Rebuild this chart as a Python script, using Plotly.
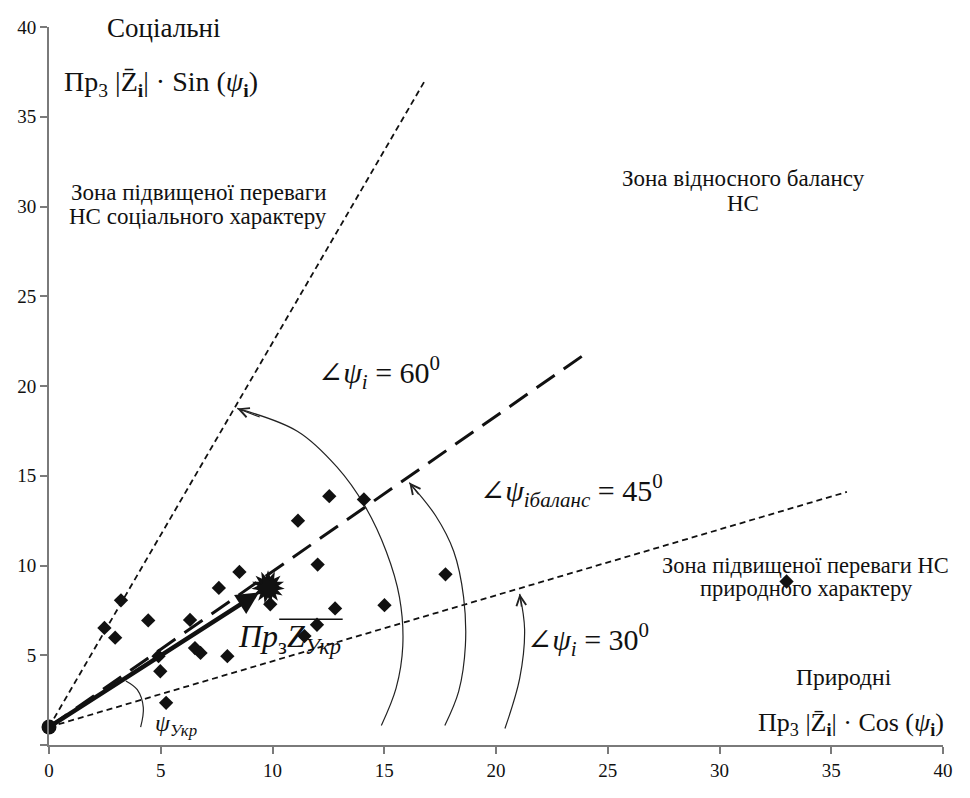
import plotly.graph_objects as go

# ---------------- data ----------------
x_ticks = [0, 5, 10, 15, 20, 25, 30, 35, 40]
x_tick_text = ["0", "5", "10", "15", "20", "25", "30", "35", "40"]
y_ticks = [0, 5, 10, 15, 20, 25, 30, 35, 40]
y_tick_text = ["", "5", "10", "15", "20", "25", "30", "35", "40"]

# regions' scatter (Пр3|Z|cos ψ, Пр3|Z|sin ψ)
pts_x = [2.48, 3.22, 2.96, 4.44, 4.9, 4.98, 5.24, 6.31, 6.53, 6.78, 7.98, 7.6, 8.52,
         9.9, 11.14, 12.02, 12.54, 14.09, 12.8, 11.99, 11.43, 15.01, 17.74, 33.0]
pts_y = [6.52, 8.06, 5.98, 6.94, 4.95, 4.11, 2.35, 6.97, 5.40, 5.13, 4.95, 8.75, 9.64,
         7.84, 12.5, 10.05, 13.86, 13.68, 7.61, 6.70, 6.07, 7.79, 9.51, 9.11]

# origin of vectors and Ukraine vector
origin = (0.0, 1.0)
ukr = (9.8, 8.8)

# zone boundary lines (end points)
line60_end = (16.86, 37.1)
line45_end = (23.94, 21.74)
line30_end = (35.7, 14.1)

# hand-drawn angle arcs (annotation geometry)
arc60_x = [14.87, 15.53, 15.83, 15.68, 15.09, 14.13, 12.88, 11.11, 8.42]
arc60_y = [1.09, 3.17, 5.53, 8.24, 10.78, 13.32, 15.49, 17.48, 18.75]
arc45_x = [17.71, 18.33, 18.63, 18.55, 18.11, 17.3, 16.12]
arc45_y = [1.09, 2.99, 5.53, 8.24, 10.78, 12.77, 14.62]
arc30_x = [20.4, 21.06, 21.28, 21.06]
arc30_y = [0.92, 3.71, 6.43, 8.42]
arcpsi_x = [3.44, 3.95, 4.22, 4.1]
arcpsi_y = [3.57, 3.08, 2.08, 0.99]

SERIF = "Liberation Serif, 'Times New Roman', 'DejaVu Serif', serif"
INK = "#111111"

fig = go.Figure()

# zone lines
fig.add_trace(go.Scatter(x=[origin[0], line60_end[0]], y=[origin[1], line60_end[1]],
                         mode="lines", line=dict(color=INK, width=1.8, dash="6px,4px"),
                         hoverinfo="skip"))
fig.add_trace(go.Scatter(x=[origin[0], line30_end[0]], y=[origin[1], line30_end[1]],
                         mode="lines", line=dict(color=INK, width=1.8, dash="6px,4px"),
                         hoverinfo="skip"))
fig.add_trace(go.Scatter(x=[origin[0], line45_end[0]], y=[origin[1], line45_end[1]],
                         mode="lines", line=dict(color=INK, width=3, dash="22px,11px"),
                         hoverinfo="skip"))

# arcs
for ax_, ay_ in [(arc60_x, arc60_y), (arc45_x, arc45_y), (arc30_x, arc30_y), (arcpsi_x, arcpsi_y)]:
    fig.add_trace(go.Scatter(x=ax_, y=ay_, mode="lines",
                             line=dict(color="#222222", width=1.2, shape="spline"),
                             hoverinfo="skip"))

# scatter points
fig.add_trace(go.Scatter(x=pts_x, y=pts_y, mode="markers",
                         marker=dict(symbol="diamond", size=11, color=INK),
                         hoverinfo="skip"))

# origin dot
fig.add_trace(go.Scatter(x=[origin[0]], y=[origin[1]], mode="markers",
                         marker=dict(symbol="circle", size=15, color=INK),
                         cliponaxis=False, hoverinfo="skip"))

# star burst at Ukraine vector tip
fig.add_trace(go.Scatter(x=[ukr[0]] * 3, y=[ukr[1]] * 3, mode="markers",
                         marker=dict(symbol="star", size=24, color=INK, angle=[0, 24, 48]),
                         hoverinfo="skip"))

annotations = []

# main vector arrow
annotations.append(dict(x=ukr[0] - 0.4, y=ukr[1] - 0.3, ax=origin[0], ay=origin[1],
                        xref="x", yref="y", axref="x", ayref="y", text="",
                        showarrow=True, arrowhead=2, arrowsize=1, arrowwidth=4.5,
                        arrowcolor=INK, standoff=0, startstandoff=0))

# arc arrowheads
for ax_, ay_ in [(arc60_x, arc60_y), (arc45_x, arc45_y), (arc30_x, arc30_y)]:
    annotations.append(dict(x=ax_[-1], y=ay_[-1], ax=ax_[-2] + (ax_[-1] - ax_[-2]) * 0.6,
                            ay=ay_[-2] + (ay_[-1] - ay_[-2]) * 0.6,
                            xref="x", yref="y", axref="x", ayref="y", text="",
                            showarrow=True, arrowhead=5, arrowsize=1.6, arrowwidth=1.2,
                            arrowcolor="#222222", standoff=0))


def txt(x, y, s, size, xanchor="center"):
    annotations.append(dict(x=x, y=y, xref="x", yref="y", text=s, showarrow=False,
                            font=dict(family=SERIF, size=size, color=INK),
                            xanchor=xanchor, yanchor="middle"))


ZVEC = "Z\u0304"
txt(5.13, 39.95, "Соціальні", 27)
txt(5.0, 36.85, "Пр<sub>3</sub> |" + ZVEC + "<sub><b>i</b></sub>| · Sin (<i>ψ</i><sub><b>i</b></sub>)", 28)
txt(6.68, 30.76, "Зона підвищеної переваги", 23)
txt(6.68, 29.46, "НС соціального характеру", 23)
txt(31.06, 31.58, "Зона відносного балансу", 23)
txt(31.06, 30.16, "НС", 23)
txt(14.76, 20.74, "∠<i>ψ</i><sub><i>i</i></sub> = 60<sup>0</sup>", 30)
txt(23.38, 14.2, "∠<i>ψ</i><sub><i>iбаланс</i></sub> = 45<sup>0</sup>", 30)
txt(33.85, 10.02, "Зона підвищеної переваги НС", 22.5)
txt(33.9, 8.70, "природного характеру", 22.5)
txt(24.1, 5.89, "∠<i>ψ</i><sub><i>i</i></sub> = 30<sup>0</sup>", 30)
txt(35.55, 3.8, "Природні", 23.5)
txt(35.9, 1.18, "Пр<sub>3</sub> |" + ZVEC + "<sub><b>i</b></sub>| · Cos (<i>ψ</i><sub><b>i</b></sub>)", 26)
txt(10.75, 5.95, "<i>Пр</i><sub>з</sub><i>Z</i><sub><i>Укр</i></sub>", 32)
txt(5.7, 1.1, "<i>ψ</i><sub><i>Укр</i></sub>", 24)

shapes = [dict(type="line", xref="x", yref="y", x0=10.3, x1=13.14, y0=7.01, y1=7.01,
               line=dict(color=INK, width=1.5))]

axis_common = dict(range=[0, 40], showgrid=False, zeroline=False, showline=True,
                   linecolor="#7a7a7a", linewidth=2, ticks="outside", ticklen=7,
                   tickwidth=2, tickcolor="#7a7a7a", ticklabeloverflow="allow",
                   tickfont=dict(family=SERIF, size=19, color=INK))

fig.update_layout(
    width=954, height=782,
    margin=dict(l=41, r=9, t=11, b=35),
    paper_bgcolor="white", plot_bgcolor="white",
    showlegend=False,
    annotations=annotations,
    shapes=shapes,
    xaxis=dict(tickvals=x_ticks, ticktext=x_tick_text, **axis_common),
    yaxis=dict(tickvals=y_ticks, ticktext=y_tick_text, **axis_common),
)

fig.write_html("out.html")
